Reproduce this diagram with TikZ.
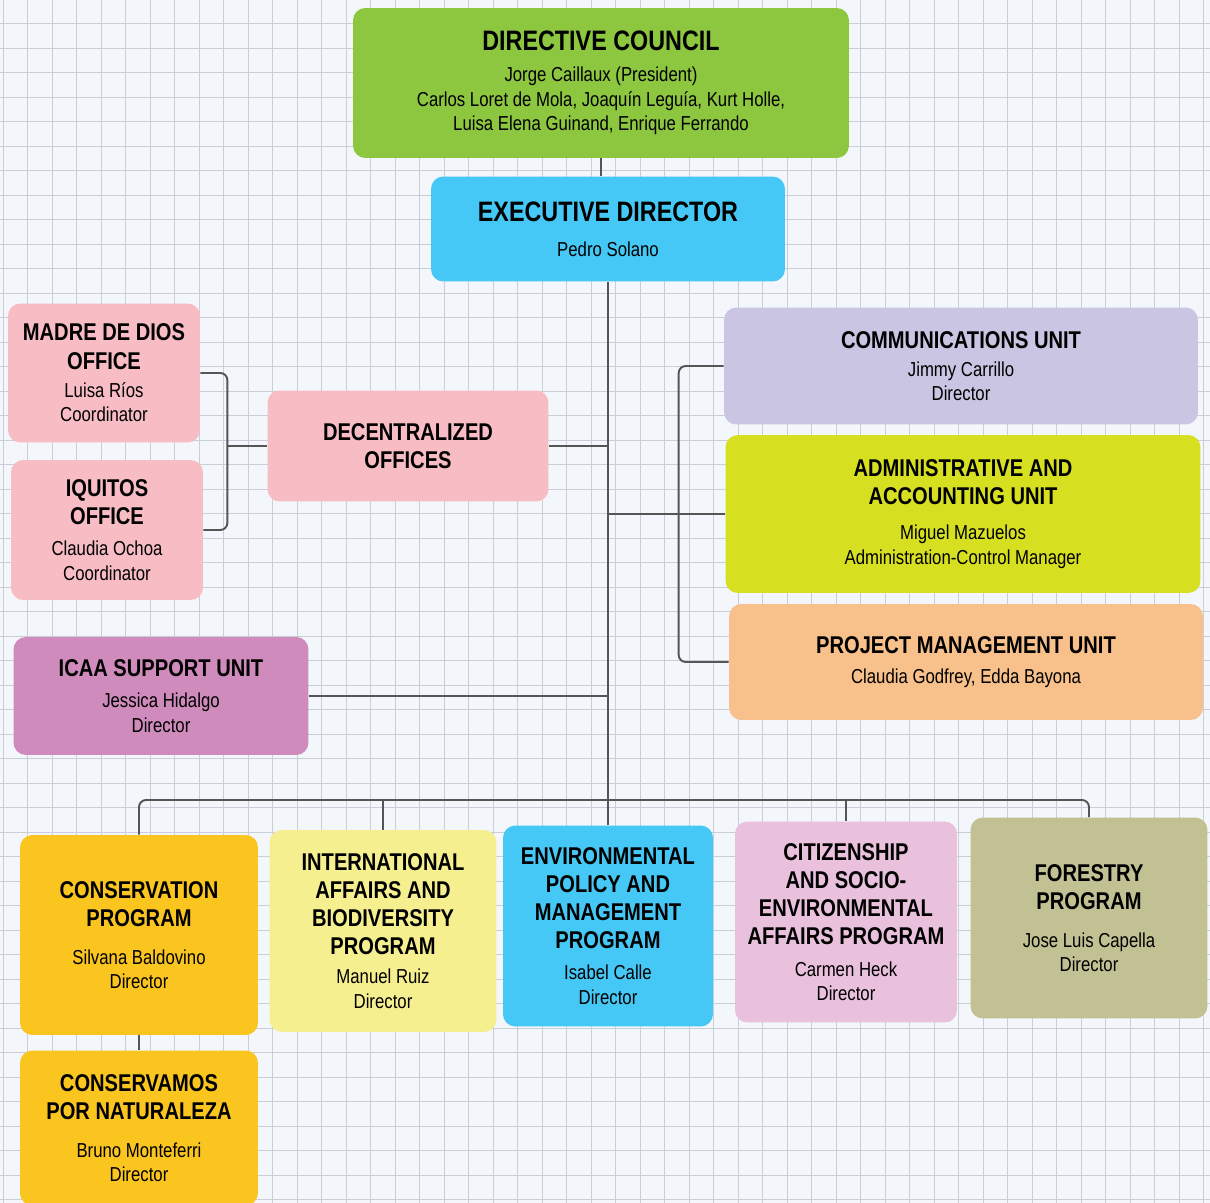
\documentclass[tikz,border=0pt]{standalone}
\usepackage{fontspec}
\setmainfont{Liberation Sans}[FakeStretch=0.83]
\usetikzlibrary{positioning}

\definecolor{paper}{HTML}{F3F6FB}
\definecolor{gridgray}{HTML}{C9CED7}
\definecolor{linkgray}{HTML}{555555}
\definecolor{council}{HTML}{8DC63F}
\definecolor{skyblue}{HTML}{45C8F5}
\definecolor{officepink}{HTML}{F7BCC4}
\definecolor{icaamauve}{HTML}{D08BBD}
\definecolor{commlilac}{HTML}{C9C5E2}
\definecolor{adminlime}{HTML}{D6E021}
\definecolor{projpeach}{HTML}{F8C08A}
\definecolor{consyellow}{HTML}{FBC520}
\definecolor{intlyellow}{HTML}{F5EF90}
\definecolor{citizpink}{HTML}{E9C1DD}
\definecolor{forestolive}{HTML}{C2C194}

\newcommand{\bigttl}[1]{{\fontsize{16}{19}\selectfont\bfseries #1}}
\newcommand{\ttl}[1]{{\fontsize{13.8}{16}\selectfont\bfseries #1}}

\begin{document}
\begin{tikzpicture}
  [x=0.02cm,y=-0.02cm,
   box/.style={rounded corners=7pt,align=center,inner sep=2pt,font=\fontsize{11.5}{14}\selectfont},
   link/.style={draw=linkgray,line width=1.1pt,rounded corners=4pt},
   grid line/.style={gridgray,line width=0.5pt},]

\useasboundingbox (0,0) rectangle (1210,1203);
\fill[paper] (0,0) rectangle (1210,1203);
\foreach \i in {0,...,49}
\draw[grid line] (3+24.5*\i,0) -- (3+24.5*\i,1203);
\foreach \i in {0,...,49}
\draw[grid line] (0,-1+24.5*\i) -- (1210,-1+24.5*\i);

\node[box,fill=council,minimum width=9.92cm,minimum height=3cm] (dc) at (601,83)
  {\bigttl{DIRECTIVE COUNCIL}\\[3.5pt] Jorge Caillaux (President)\\ Carlos Loret de Mola, Joaquín Leguía, Kurt Holle,\\ Luisa Elena Guinand, Enrique Ferrando};
\node[box,fill=skyblue,minimum width=7.08cm,minimum height=2.1cm] (ed) at (608,229)
  {\bigttl{EXECUTIVE DIRECTOR}\\[6pt] Pedro Solano};

\node[box,fill=officepink,minimum width=3.84cm,minimum height=2.78cm] (madre) at (104,373)
  {\ttl{MADRE DE DIOS}\\[2pt] \ttl{OFFICE}\\[2pt] Luisa Ríos\\ Coordinator};
\node[box,fill=officepink,minimum width=3.84cm,minimum height=2.8cm] (iquitos) at (107,530)
  {\ttl{IQUITOS}\\[2pt] \ttl{OFFICE}\\[3.5pt] Claudia Ochoa\\ Coordinator};
\node[box,fill=officepink,minimum width=5.62cm,minimum height=2.22cm] (deco) at (408,446)
  {\ttl{DECENTRALIZED}\\[2pt] \ttl{OFFICES}};
\node[box,fill=icaamauve,minimum width=5.9cm,minimum height=2.36cm] (icaa) at (161,696)
  {\ttl{ICAA SUPPORT UNIT}\\[4pt] Jessica Hidalgo\\ Director};

\node[box,fill=commlilac,minimum width=9.48cm,minimum height=2.34cm] (comm) at (961,366)
  {\ttl{COMMUNICATIONS UNIT}\\[2pt] Jimmy Carrillo\\ Director};
\node[box,fill=adminlime,minimum width=9.5cm,minimum height=3.16cm] (admin) at (963,514)
  {\ttl{ADMINISTRATIVE AND}\\[2pt] \ttl{ACCOUNTING UNIT}\\[6pt] Miguel Mazuelos\\ Administration-Control Manager};
\node[box,fill=projpeach,minimum width=9.48cm,minimum height=2.32cm] (proj) at (966,662)
  {\ttl{PROJECT MANAGEMENT UNIT}\\[3pt] Claudia Godfrey, Edda Bayona};

\node[box,fill=consyellow,minimum width=4.76cm,minimum height=4cm] (cons) at (139,935)
  {\ttl{CONSERVATION}\\[2pt] \ttl{PROGRAM}\\[7.5pt] Silvana Baldovino\\ Director};
\node[box,fill=intlyellow,minimum width=4.54cm,minimum height=4.04cm] (intl) at (383,931)
  {\ttl{INTERNATIONAL}\\[2pt] \ttl{AFFAIRS AND}\\[2pt] \ttl{BIODIVERSITY}\\[2pt] \ttl{PROGRAM}\\[2.5pt] Manuel Ruiz\\ Director};
\node[box,fill=skyblue,minimum width=4.2cm,minimum height=4.02cm] (env) at (608,926)
  {\ttl{ENVIRONMENTAL}\\[2pt] \ttl{POLICY AND}\\[2pt] \ttl{MANAGEMENT}\\[2pt] \ttl{PROGRAM}\\[3.5pt] Isabel Calle\\ Director};
\node[box,fill=citizpink,minimum width=4.44cm,minimum height=4.02cm] (citiz) at (846,922)
  {\ttl{CITIZENSHIP}\\[2pt] \ttl{AND SOCIO-}\\[2pt] \ttl{ENVIRONMENTAL}\\[2pt] \ttl{AFFAIRS PROGRAM}\\[4pt] Carmen Heck\\ Director};
\node[box,fill=forestolive,minimum width=4.74cm,minimum height=4.02cm] (forest) at (1089,918)
  {\ttl{FORESTRY}\\[2pt] \ttl{PROGRAM}\\[7.5pt] Jose Luis Capella\\ Director};
\node[box,fill=consyellow,minimum width=4.76cm,minimum height=3.1cm] (cnat) at (139,1128)
  {\ttl{CONSERVAMOS}\\[2pt] \ttl{POR NATURALEZA}\\[7.5pt] Bruno Monteferri\\ Director};

\coordinate (bus) at (608,800);
\draw[link] (dc.south) -- (dc.south |- ed.north);
\draw[link] (ed.south) -- (env.north);
\draw[link] (deco.east) -- (deco.east -| ed.south);
\draw[link] (admin.west) -- (admin.west -| ed.south);
\draw[link] (icaa.east) -- (icaa.east -| ed.south);
\draw[link] (madre.east) -- ++(27,0) coordinate (lb) |- (iquitos.east);
\draw[link] (deco.west) -- (deco.west -| lb);
\draw[link] (comm.west) -- ++(-45,0) |- (proj.west);
\draw[link] (cons.north) -- (cons.north |- bus) -- (forest.north |- bus) -- (forest.north);
\foreach \n in {intl,citiz}
\draw[link] (\n.north) -- (\n.north |- bus);
\draw[link] (cons.south) -- (cnat.north);

\end{tikzpicture}
\end{document}
